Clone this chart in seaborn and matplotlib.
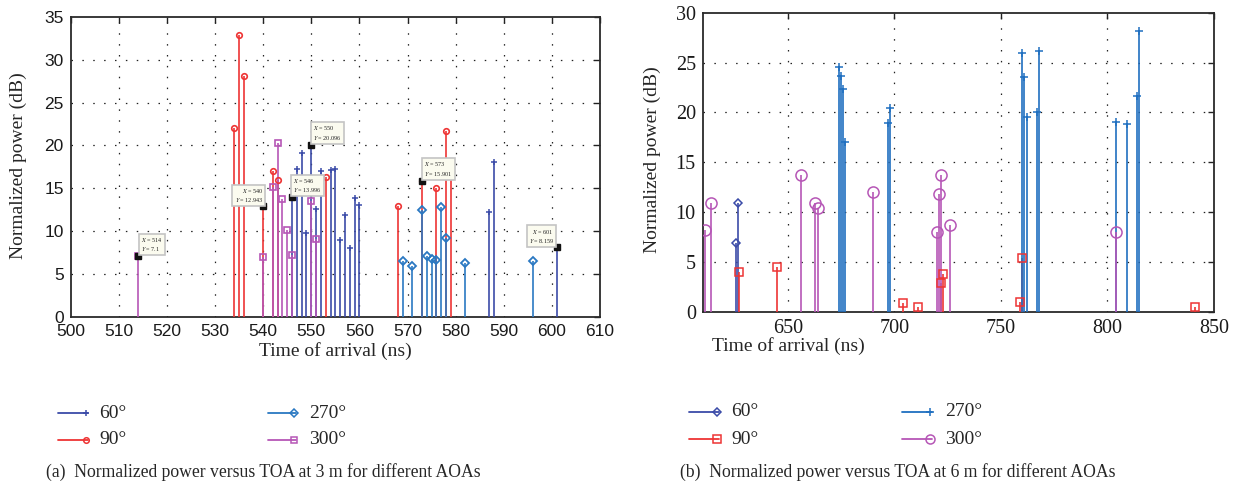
import numpy as np
import pandas as pd
import matplotlib
matplotlib.use("Agg")
import matplotlib.pyplot as plt
import seaborn as sns
from matplotlib.lines import Line2D

# ---------------- data (panel a: 3 m) ----------------
a60_x = [546, 547, 548, 549, 550, 551, 552, 554, 555, 556, 557, 558, 559, 560, 587, 588, 601]
a60_y = [13.996, 17.2, 19.1, 9.75, 20.096, 12.6, 17.0, 17.1, 17.25, 8.9, 11.9, 8.0, 13.85, 13.0, 12.2, 18.1, 8.159]
a90_x = [534, 535, 536, 540, 542, 543, 553, 568, 573, 576, 578, 579]
a90_y = [22.0, 32.9, 28.1, 12.943, 17.0, 16.0, 16.3, 12.9, 15.901, 15.0, 21.7, 17.0]
a270_x = [569, 571, 573, 574, 575, 576, 577, 578, 582, 596]
a270_y = [6.5, 5.95, 12.5, 7.1, 6.75, 6.65, 12.85, 9.15, 6.3, 6.55]
a300_x = [514, 540, 542, 543, 544, 545, 546, 550, 551]
a300_y = [7.1, 7.0, 15.1, 20.3, 13.8, 10.1, 7.2, 13.55, 9.1]
tips_x = [514, 540, 546, 550, 573, 601]
tips_y = [7.1, 12.943, 13.996, 20.096, 15.901, 8.159]

# ---------------- data (panel b: 6 m) ----------------
b60_x = [625.5, 626.5]
b60_y = [6.9, 10.9]
b90_x = [627, 645, 704, 711, 722, 723, 759, 760, 841]
b90_y = [4.0, 4.5, 0.9, 0.45, 2.85, 3.75, 0.95, 5.4, 0.5]
b270_x = [674, 675, 676, 677, 697, 698, 760, 761, 762, 767, 768, 804, 809, 814, 815]
b270_y = [24.6, 23.6, 22.3, 17.0, 18.9, 20.4, 26.0, 23.5, 19.5, 20.0, 26.2, 19.0, 18.8, 21.6, 28.2]
b300_x = [611, 614, 656, 662.7, 664, 690, 720, 721, 722, 726, 804]
b300_y = [8.2, 10.9, 13.75, 10.9, 10.4, 12.05, 7.95, 11.85, 13.75, 8.7, 7.95]

labels = ["60°", "90°", "270°", "300°"]
captions = ["(a)  Normalized power versus TOA at 3 m for different AOAs",
            "(b)  Normalized power versus TOA at 6 m for different AOAs"]

# ---------------- styling ----------------
sns.set_theme(style="white")
plt.rcParams['font.family'] = ['Liberation Serif', 'DejaVu Serif']
plt.rcParams['mathtext.fontset'] = 'stix'

C_DB = "#3B4BA8"
C_RED = "#EE3434"
C_BL = "#2A78C2"
C_PU = "#B656B6"

W, H = 1242, 492
fig = plt.figure(figsize=(W / 100, H / 100), dpi=100)


def rect(l, t, r, b):
    return [l / W, 1 - b / H, (r - l) / W, (b - t) / H]


axL = fig.add_axes(rect(70.7, 17, 600, 316.7))
axR = fig.add_axes(rect(702.7, 12.7, 1214, 311.7))


def stems(ax, xs, ys, color, marker, ms, mew=1.2, lw=1.4):
    df = pd.DataFrame({"x": xs, "y": ys})
    ax.vlines(df["x"], 0, df["y"], color=color, lw=lw, alpha=0.85, zorder=3)
    ax.plot(df["x"], df["y"], ls="none", marker=marker, ms=ms, mfc="none",
            mec=color, mew=mew, zorder=4, clip_on=True)


# panel a
stems(axL, a60_x, a60_y, C_DB, "+", 5, mew=1.1)
stems(axL, a90_x, a90_y, C_RED, "o", 4, mew=1.2)
stems(axL, a270_x, a270_y, C_BL, "D", 3.6, mew=1.3)
stems(axL, a300_x, a300_y, C_PU, "s", 4, mew=1.2)

# panel b
stems(axR, b60_x, b60_y, C_DB, "D", 4, mew=1.1)
stems(axR, b90_x, b90_y, C_RED, "s", 6, mew=1.1)
stems(axR, b270_x, b270_y, "#1F6FC0", "+", 6, mew=1.1)
stems(axR, b300_x, b300_y, C_PU, "o", 8, mew=1.1)

# data tips
tip_off = {514: (3, 3, "left"), 540: (0, 2, "right"), 546: (1, 3, "left"),
           550: (2, 3, "left"), 573: (2, 3, "left"), 601: (-3, 2, "right")}
for x, y in zip(tips_x, tips_y):
    dx, dy, ha = tip_off[x]
    axL.plot([x], [y], ls="none", marker="s", ms=4, color="#111111", zorder=6)
    axL.annotate(f"$X$ = {x}\n$Y$ = {y:g}", xy=(x, y), xytext=(dx, dy),
                 textcoords="offset pixels", ha=ha, va="bottom", fontsize=4.4,
                 color="#222222", linespacing=1.2,
                 bbox=dict(boxstyle="square,pad=0.35", fc="#FBFBEF", ec="#C4C4C4", lw=1.2),
                 zorder=7)

grid_kw = dict(color="#222222", lw=0.9, ls=(0, (1.2, 7.5)), zorder=1)

axL.set_xlim(500, 610)
axL.set_ylim(0, 35)
axL.set_xticks(np.arange(500, 611, 10))
axL.set_yticks(np.arange(0, 36, 5))
for gx in range(510, 610, 10):
    axL.axvline(gx, **grid_kw)
for gy in range(5, 35, 5):
    axL.axhline(gy, **grid_kw)

axR.set_xlim(610, 850)
axR.set_ylim(0, 30)
axR.set_xticks([650, 700, 750, 800, 850])
axR.set_yticks(np.arange(0, 31, 5))
for gx in [650, 700, 750, 800]:
    axR.axvline(gx, **grid_kw)
for gy in range(5, 30, 5):
    axR.axhline(gy, **grid_kw)

for ax, fam, fs in [(axL, "Liberation Sans", 12.5), (axR, "Liberation Serif", 14.5)]:
    ax.tick_params(direction="in", top=True, right=True, length=4, width=1,
                   color="#222222", labelsize=fs, pad=5)
    for lab in ax.get_xticklabels() + ax.get_yticklabels():
        lab.set_fontfamily(fam)
        lab.set_color("#1a1a1a")
    for s in ax.spines.values():
        s.set_color("#2a2a2a")
        s.set_linewidth(1.3)
    ax.set_facecolor("white")

# axis labels
fs_lab = 14
fig.text(335 / W, 1 - 351 / H, "Time of arrival (ns)", ha="center", va="center", fontsize=fs_lab)
fig.text(18 / W, 1 - 166 / H, "Normalized power (dB)", ha="center", va="center", rotation=90, fontsize=fs_lab)
fig.text(788 / W, 1 - 346 / H, "Time of arrival (ns)", ha="center", va="center", fontsize=fs_lab)
fig.text(652 / W, 1 - 160 / H, "Normalized power (dB)", ha="center", va="center", rotation=90, fontsize=fs_lab)


# legends (manual, line with marker at the right end)
def entry(x0, x1, y, color, marker, ms, text, tx, mew=1.1):
    fy = 1 - y / H
    fig.add_artist(Line2D([x0 / W, x1 / W], [fy, fy], transform=fig.transFigure,
                          color=color, lw=1.3))
    fig.add_artist(Line2D([(x1 - 2) / W], [fy], transform=fig.transFigure, ls="none",
                          marker=marker, ms=ms, mfc="none", mec=color, mew=mew))
    fig.text(tx / W, fy, text, ha="left", va="center", fontsize=14)


entry(58, 88, 413, C_DB, "+", 5, labels[0], 99)
entry(58, 88, 440, C_RED, "o", 4, labels[1], 99)
entry(268, 296, 413, C_BL, "D", 3.6, labels[2], 309)
entry(268, 296, 440, C_PU, "s", 4, labels[3], 309)

entry(689, 719, 412, C_DB, "D", 4, labels[0], 731)
entry(689, 719, 439, C_RED, "s", 5.5, labels[1], 731)
entry(902, 932, 412, "#1F6FC0", "+", 5.5, labels[2], 945)
entry(902, 932, 439, C_PU, "o", 6.5, labels[3], 945)

# captions
fig.text(263 / W, 1 - 472 / H, captions[0], ha="center", va="center", fontsize=12.7)
fig.text(898 / W, 1 - 472 / H, captions[1], ha="center", va="center", fontsize=12.7)

fig.savefig("out.png", dpi=100, facecolor="white")
